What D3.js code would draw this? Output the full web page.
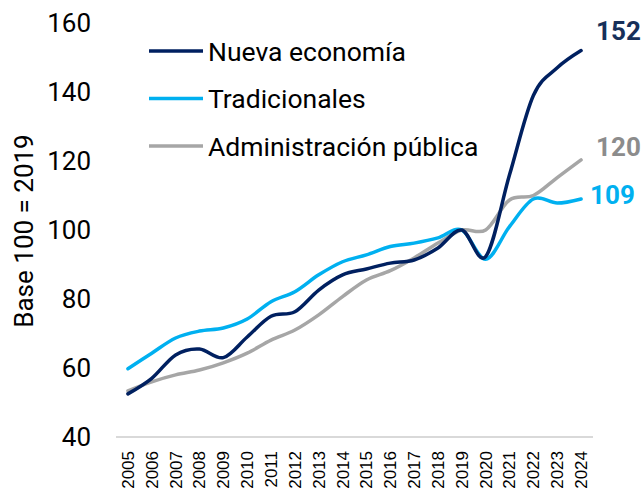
<!DOCTYPE html>
<html>
<head>
  <meta charset="utf-8">
  <title>Base 100 = 2019</title>
  <style>
  body {
    margin: 0;
    background: #fff;
  }
  text {
    font-family: Roboto, "Noto Sans", sans-serif;
  }
  .years text {
    font-family: "Liberation Sans", Arial, sans-serif;
  }
</style>
</head>
<body>
  <div id="viz"></div>

  <script src="https://d3js.org/d3.v7.min.js"></script>
  <script>
    // data
    const years = d3.range(2005, 2025).map(String);
    const nuevaEconomia = [52.5, 57, 63.8, 65.5, 63, 69, 75, 76.3, 82.6, 87, 88.7, 90.4, 91.3, 94.8, 100, 92.3, 116, 139, 147, 152];
    const tradicionales = [59.8, 64.3, 68.7, 70.7, 71.6, 74.2, 79.2, 82.1, 87, 90.8, 92.8, 95.2, 96.2, 97.7, 100, 91.5, 101, 109, 107.8, 109];
    const administracion = [53.4, 56, 58, 59.4, 61.5, 64.3, 68.1, 71, 75.4, 80.7, 85.5, 88.2, 91.9, 96.2, 100, 100, 108.7, 110, 115.2, 120.3];
    const yTicks = [40, 60, 80, 100, 120, 140, 160];

    const series = [
      {name: "Nueva economía", values: nuevaEconomia, color: "#002060", labelColor: "#17305a"},
      {name: "Tradicionales", values: tradicionales, color: "#00b0f0", labelColor: "#00b0f0"},
      {name: "Administración pública", values: administracion, color: "#a6a6a6", labelColor: "#8c8c8c"}
    ];

    const svgWidth = 643, svgHeight = 491;
    const margin = {top: 23, right: 50, bottom: 54, left: 116};

    const svg = d3.select("#viz")
      .append("svg")
      .attr("width", svgWidth)
      .attr("height", svgHeight);

    // scales
    const x = d3.scaleBand()
      .domain(years)
      .range([margin.left, svgWidth - margin.right]);

    const y = d3.scaleLinear()
      .domain([40, 160])
      .range([svgHeight - margin.bottom, margin.top]);

    // y tick labels
    svg.append("g")
      .selectAll("text")
      .data(yTicks)
      .join("text")
      .attr("x", 91)
      .attr("y", d => y(d))
      .attr("dy", "0.36em")
      .attr("text-anchor", "end")
      .attr("font-size", 26)
      .attr("fill", "#000")
      .text(d => d);

    // y axis title
    svg.append("text")
      .attr("transform", `translate(33,231) rotate(-90)`)
      .attr("text-anchor", "middle")
      .attr("font-size", 26)
      .attr("fill", "#000")
      .text("Base 100 = 2019");

    // x axis line
    svg.append("line")
      .attr("x1", x.range()[0])
      .attr("x2", x.range()[1])
      .attr("y1", y(40))
      .attr("y2", y(40))
      .attr("stroke", "#d9d9d9")
      .attr("stroke-width", 2);

    // year labels (the reference crops them at the bottom; kept just inside here)
    svg.append("g")
      .attr("class", "years")
      .selectAll("text")
      .data(years)
      .join("text")
      .attr("transform", d => `translate(${x(d) + x.bandwidth() / 2},451) rotate(-90)`)
      .attr("dy", "0.35em")
      .attr("text-anchor", "end")
      .attr("font-size", 17)
      .attr("fill", "#000")
      .text(d => d);

    // lines
    const line = d3.line()
      .x((d, i) => x(years[i]) + x.bandwidth() / 2)
      .y(d => y(d))
      .curve(d3.curveCardinal.tension(0));

    svg.append("g")
      .selectAll("path")
      .data(series.slice().reverse())
      .join("path")
      .attr("d", d => line(d.values))
      .attr("fill", "none")
      .attr("stroke", d => d.color)
      .attr("stroke-width", 3.5)
      .attr("stroke-linejoin", "round")
      .attr("stroke-linecap", "round");

    // end labels
    const last = years[years.length - 1];
    const endLabels = [
      {s: series[0], dx: 15, y: 40},
      {s: series[2], dx: 15, y: 156},
      {s: series[1], dx: 9, y: 204}
    ];
    svg.append("g")
      .selectAll("text")
      .data(endLabels)
      .join("text")
      .attr("x", d => x(last) + x.bandwidth() / 2 + d.dx)
      .attr("y", d => d.y)
      .attr("font-size", 26)
      .attr("font-weight", "bold")
      .attr("fill", d => d.s.labelColor)
      .text(d => Math.round(d.s.values[d.s.values.length - 1]));

    // legend
    const legend = svg.append("g")
      .selectAll("g")
      .data(series)
      .join("g")
      .attr("transform", (d, i) => `translate(149,${51 + i * 47.5})`);

    legend.append("line")
      .attr("x1", 0)
      .attr("x2", 54)
      .attr("stroke", d => d.color)
      .attr("stroke-width", 3.5);

    legend.append("text")
      .attr("x", 59)
      .attr("dy", "0.36em")
      .attr("font-size", 26.5)
      .attr("fill", "#000")
      .text(d => d.name);
  </script>
</body>
</html>
